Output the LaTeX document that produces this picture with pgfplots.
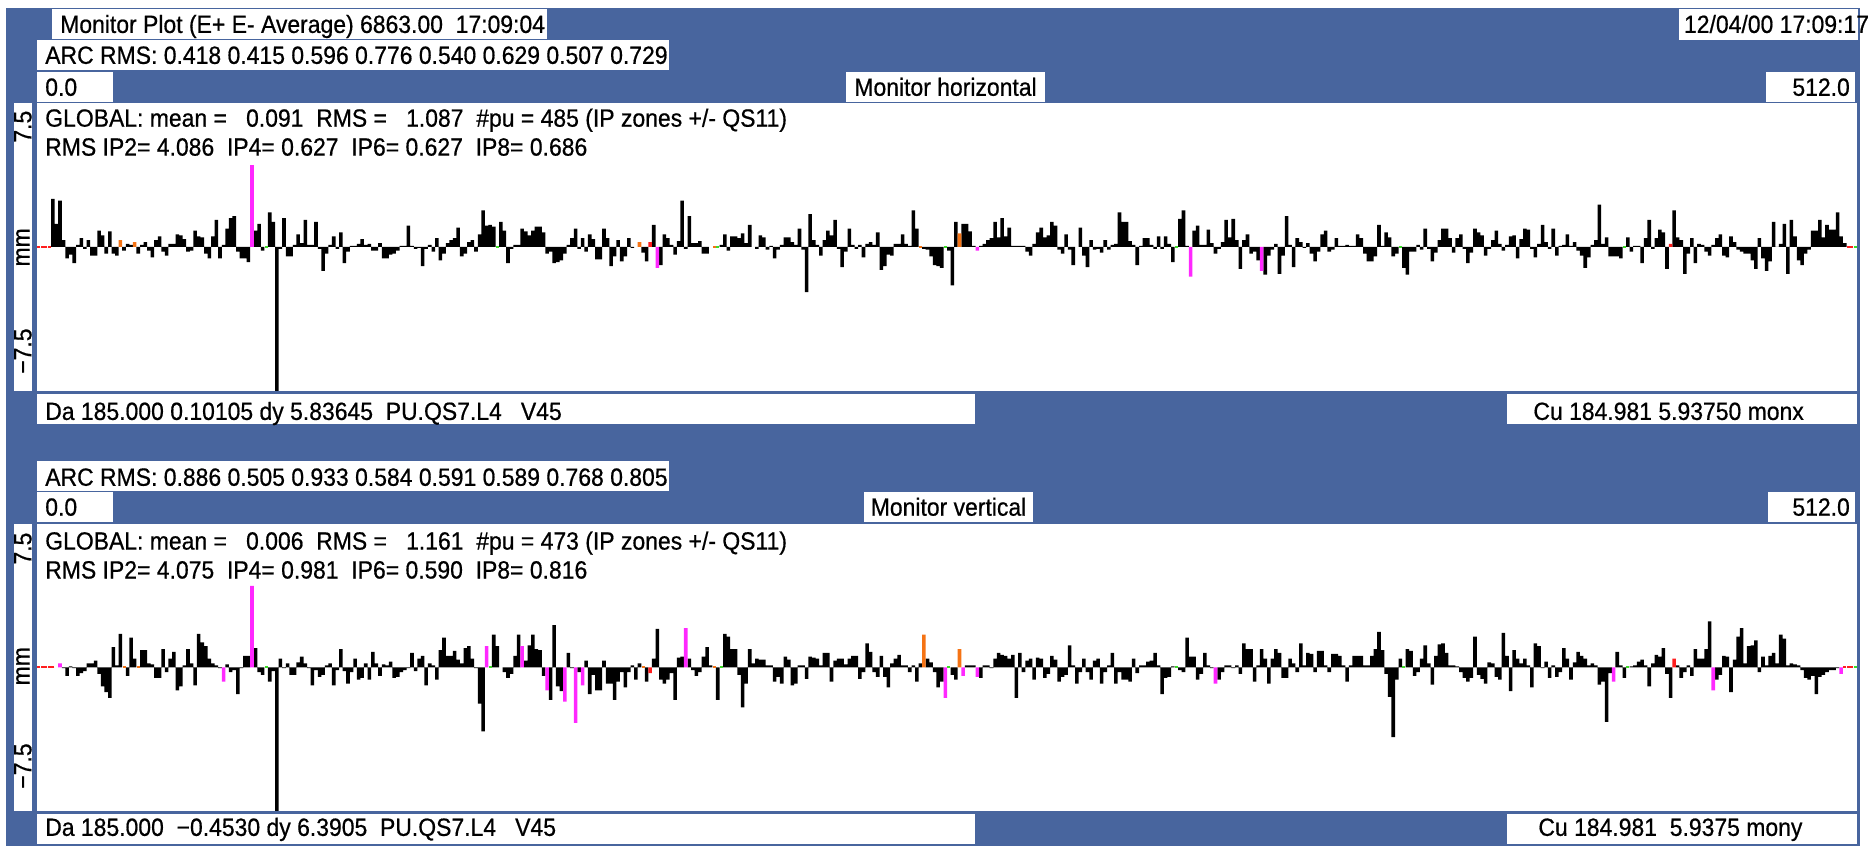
\documentclass[border=0pt]{standalone}
\usepackage{pgfplots}
\pgfplotsset{compat=1.18}
\usepackage{fontspec}
\setmainfont{Liberation Sans}[FakeStretch=0.92,FakeBold=0.6]
\definecolor{frameblue}{RGB}{72,101,158}
\definecolor{mag}{RGB}{255,40,255}
\definecolor{org}{RGB}{245,115,20}
\definecolor{grn}{RGB}{60,220,40}
\definecolor{rd}{RGB}{255,30,30}
\pgfplotsset{
  panel/.style={anchor=north west, scale only axis, width=912.5pt,
    xmin=-0.5, xmax=511.5, ymin=-7.5, ymax=7.5, hide axis, clip=true},
  bars/.style={ybar, bar width=1, bar shift=0pt, draw=none, fill=#1},
  zmark/.style={only marks, mark=-, mark size=0.75pt, color=#1, mark options={line width=1pt}},
}
\begin{document}
\begin{tikzpicture}[font=\fontsize{12.5}{14}\selectfont]
\begin{scope}[x=0.5pt,y=-0.5pt]
  \fill[white] (0,0) rectangle (1869,853);
  \fill[frameblue] (6,8) rectangle (1865,848);
  % ---- top header
  \fill[white] (52,9) rectangle (548,39);
  \fill[white] (1683,9) rectangle (1863,40);
  \fill[white] (37,40) rectangle (671,70);
  \fill[white] (37,72) rectangle (113,102);
  \fill[white] (848,72) rectangle (1048,102);
  \fill[white] (1771,72) rectangle (1860,102);
  \fill[white] (37,103) rectangle (1862,392);
  \fill[white] (14,103) rectangle (32,392);
  \fill[white] (37,395) rectangle (978,425);
  \fill[white] (1511,395) rectangle (1862,425);
  % ---- bottom header
  \fill[white] (37,462) rectangle (671,492);
  \fill[white] (37,493) rectangle (113,523);
  \fill[white] (866,493) rectangle (1036,523);
  \fill[white] (1773,493) rectangle (1860,523);
  \fill[white] (37,525) rectangle (1862,813);
  \fill[white] (14,525) rectangle (32,813);
  \fill[white] (37,816) rectangle (978,846);
  \fill[white] (1511,816) rectangle (1862,846);
  % ---- texts
  \tikzset{t/.style={inner sep=0pt, anchor=base west}}
  \node[t] at (60,33) {Monitor Plot (E+ E- Average) 6863.00~ 17:09:04};
  \node[t] at (1688,33) {12/04/00 17:09:17};
  \node[t] at (45,64) {ARC RMS: 0.418 0.415 0.596 0.776 0.540 0.629 0.507 0.729};
  \node[t] at (45,96) {0.0};
  \node[inner sep=0pt, anchor=base] at (948,96) {Monitor horizontal};
  \node[inner sep=0pt, anchor=base east] at (1855,96) {512.0};
  \node[t] at (45,127) {GLOBAL: mean = ~~0.091 ~RMS = ~~1.087 ~\#pu = 485 (IP zones +/- QS11)};
  \node[t] at (45,156) {RMS IP2= 4.086 ~IP4= 0.627 ~IP6= 0.627 ~IP8= 0.686};
  \node[inner sep=0pt, rotate=90] at (23,127) {7.5};
  \node[inner sep=0pt, rotate=90] at (23,248) {mm};
  \node[inner sep=0pt, rotate=90] at (23,352) {−7.5};
  \node[t] at (45,421) {Da 185.000 0.10105 dy 5.83645 ~PU.QS7.L4 ~~V45};
  \node[t] at (1537,421) {Cu 184.981 5.93750 monx};
  \node[t] at (45,487) {ARC RMS: 0.886 0.505 0.933 0.584 0.591 0.589 0.768 0.805};
  \node[t] at (45,517) {0.0};
  \node[inner sep=0pt, anchor=base] at (951,517) {Monitor vertical};
  \node[inner sep=0pt, anchor=base east] at (1855,517) {512.0};
  \node[t] at (45,551) {GLOBAL: mean = ~~0.006 ~RMS = ~~1.161 ~\#pu = 473 (IP zones +/- QS11)};
  \node[t] at (45,580) {RMS IP2= 4.075 ~IP4= 0.981 ~IP6= 0.590 ~IP8= 0.816};
  \node[inner sep=0pt, rotate=90] at (23,550) {7.5};
  \node[inner sep=0pt, rotate=90] at (23,668) {mm};
  \node[inner sep=0pt, rotate=90] at (23,768) {−7.5};
  \node[t] at (45,838) {Da 185.000 ~−0.4530 dy 6.3905 ~PU.QS7.L4 ~~V45};
  \node[t] at (1542,838) {Cu 184.981 ~5.9375 mony};
\end{scope}

% ================= top panel: horizontal
\begin{axis}[panel, at={(18.5pt,-51.5pt)}, height=144.5pt]
\addplot[bars=black] coordinates {
(4,2.5)(5,1.2)(6,2.4)(7,0.35)(8,-0.6)(9,-0.4)(10,-0.85)(11,0.1)(12,0.45)(13,-0.1)(14,0.35)(15,-0.45)(16,-0.45)(17,0.85)(18,0.6)(19,-0.35)(20,0.8)(21,-0.35)(22,-0.45)(24,-0.2)(25,0.15)(26,0.1)(28,-0.35)(29,0.1)(30,0.25)(31,-0.2)(32,-0.55)(33,0.35)(34,0.55)(35,-0.25)(36,-0.45)(37,0.15)(38,0.15)(39,0.65)(40,0.6)(41,0.4)(42,-0.25)(43,-0.2)(44,0.85)(45,0.55)(46,0.5)(47,-0.35)(48,-0.6)(49,0.55)(50,1.4)(51,-0.6)(52,0.1)(53,0.95)(54,1.5)(55,1.6)(56,-0.25)(57,-0.6)(58,-0.6)(59,-0.8)(61,0.85)(62,1.2)(63,-0.2)(65,1.8)(66,1.3)(67,-8)(68,-0.1)(69,1.5)(70,-0.5)(71,-0.5)(72,0.1)(73,0.65)(74,0.2)(75,1.4)(76,0.1)(77,0.1)(78,1.3)(79,-0.1)(80,-1.25)(81,-0.35)(82,0.1)(83,0.55)(84,-0.1)(85,0.75)(86,-0.85)(87,-0.25)(88,0.05)(89,0.05)(90,0.15)(91,0.4)(92,0.1)(93,0.15)(94,-0.2)(95,-0.2)(96,0.2)(97,-0.6)(98,-0.6)(99,-0.4)(100,-0.35)(101,-0.2)(102,0.05)(103,0.05)(104,1.1)(105,0.05)(106,-0.1)(107,-0.05)(108,-1.0)(109,-0.1)(110,0.1)(111,-0.25)(112,0.45)(113,-0.7)(114,-0.35)(115,0.2)(116,0.35)(117,0.45)(118,1.0)(119,-0.5)(120,-0.35)(121,0.25)(122,0.35)(123,-0.25)(124,0.65)(125,1.9)(126,1.1)(127,1.15)(128,1.05)(130,1.3)
(131,0.85)(132,-0.85)(133,-0.1)(134,0.1)(135,0.1)(136,0.95)(137,0.8)(138,0.6)(139,0.85)(140,1.05)(141,1.05)(142,0.75)(143,-0.35)(144,-0.25)(145,-0.85)(146,-0.8)(147,-0.7)(148,-0.35)(149,0.1)(150,0.45)(151,0.95)(152,-0.1)(153,0.45)(154,-0.25)(155,0.65)(156,0.4)(157,-0.65)(158,-0.65)(159,0.95)(160,0.45)(161,-1.0)(162,-0.5)(163,0.35)(164,-0.75)(165,-0.5)(166,0.45)(167,-0.05)(170,-0.3)(171,-0.75)(173,1.15)(175,-0.95)(176,0.65)(177,0.45)(178,0.1)(179,-0.4)(180,0.3)(181,2.4)(182,-0.1)(183,1.6)(184,0.2)(185,0.2)(186,0.3)(187,-0.35)(188,-0.35)(192,0.1)(193,0.65)(194,-0.2)(195,0.55)(196,0.55)(197,0.45)(198,0.7)(199,0.2)(200,1.15)(202,-0.1)(203,0.6)(204,0.5)(205,-0.15)(206,0.05)(207,-0.6)(208,-0.15)(209,0.1)(210,0.5)(211,0.5)(212,0.25)(213,0.1)(214,0.95)(215,-0.15)(216,-2.35)(217,1.7)(218,0.35)(219,0.1)(220,-0.45)(221,0.35)(222,0.85)(223,0.6)(224,1.4)(225,-0.1)(226,-1.05)(227,-0.25)(228,0.95)(229,0.1)(230,-0.1)(231,0.1)(232,-0.55)(233,0.15)(234,0.25)(235,0.1)(236,0.75)(237,-1.2)(238,-1.0)(239,-0.4)(240,-0.45)(241,0.15)(242,0.15)(243,0.65)(244,0.15)(245,0.05)(246,1.9)(247,0.95)(249,-0.1)(250,-0.15)(251,-0.5)(252,-0.95)(253,-1.0)(254,-1.1)(256,-0.2)(257,-2.0)(258,1.3)
(260,1.2)(261,1.2)(262,0.8)(263,0.05)(265,0.05)(266,0.15)(267,0.35)(268,0.45)(269,1.3)(270,0.5)(271,1.5)(272,0.55)(273,1.0)(274,0.05)(275,0.05)(276,0.05)(277,0.05)(278,-0.25)(279,-0.45)(280,0.15)(281,0.75)(282,1.0)(283,0.5)(284,0.6)(285,1.3)(286,1.1)(287,-0.15)(288,-0.35)(289,0.65)(290,-0.15)(291,-0.95)(293,1.0)(294,-0.45)(295,-1.05)(296,0.35)(297,-0.15)(298,-0.1)(299,-0.3)(300,0.35)(301,-0.15)(302,0.1)(303,0.15)(304,1.8)(305,1.3)(306,1.3)(307,0.3)(308,0.1)(309,-0.95)(310,0.05)(311,0.45)(312,0.45)(313,0.1)(314,-0.1)(315,0.55)(316,-0.1)(317,0.55)(318,0.15)(319,-0.8)(321,1.45)(322,1.9)(323,0.05)(325,0.85)(326,1.1)(327,0.1)(328,0.1)(329,0.9)(330,0.2)(331,-0.35)(332,-0.1)(333,0.25)(334,1.4)(335,0.5)(336,1.45)(337,0.35)(338,-1.15)(339,0.35)(340,0.65)(341,-0.35)(342,-0.25)(343,-0.7)(345,-1.45)(346,-0.45)(347,-0.15)(348,0.15)(349,-1.4)(350,-0.45)(351,1.6)(352,0.1)(353,-1.05)(354,0.45)(355,0.25)(356,-0.05)(357,0.2)(358,-0.35)(359,-0.75)(360,-0.25)(361,0.65)(362,0.85)(363,-0.25)(364,-0.15)(365,0.45)(366,0.05)(367,0.05)(368,0.1)(369,0.05)(370,0.05)(371,0.65)(372,0.45)(373,-0.35)(374,-0.75)(375,-0.75)(376,-0.5)(377,1.15)(378,0.05)(379,0.75)(380,0.5)(381,-0.5)(382,-0.35)(384,-1.1)(385,-1.45)(386,-0.25)
(387,-0.25)(388,0.1)(389,-0.15)(390,0.95)(391,-0.1)(392,-0.75)(393,-0.3)(394,0.35)(395,0.95)(396,0.95)(397,0.45)(398,-0.3)(399,0.45)(400,0.65)(401,-0.1)(402,-0.85)(403,-0.3)(404,0.95)(405,0.75)(406,0.6)(407,-0.45)(408,-0.1)(409,0.35)(410,0.85)(411,0.15)(412,-0.2)(413,0.1)(414,0.55)(415,0.6)(416,-0.6)(417,0.4)(418,0.95)(419,0.9)(420,-0.1)(421,-0.55)(422,0.15)(423,1.15)(424,0.25)(425,-0.1)(426,0.95)(427,-0.45)(428,0.05)(429,0.1)(430,0.65)(431,0.05)(432,0.25)(433,-0.2)(434,-0.45)(435,-1.1)(436,-0.55)(437,0.1)(438,0.35)(439,2.2)(440,0.15)(441,0.5)(442,-0.5)(443,-0.5)(444,-0.5)(445,-0.6)(447,0.5)(448,-0.25)(449,0.05)(450,0.05)(451,-0.85)(452,0.45)(453,1.4)(454,-0.1)(455,0.45)(456,0.9)(457,0.75)(458,-1.15)(460,1.9)(461,0.5)(462,0.35)(463,-1.4)(464,-0.35)(465,0.45)(466,-0.85)(467,0.15)(468,0.1)(469,-0.25)(470,-0.45)(471,0.1)(472,0.45)(473,0.65)(474,-0.45)(475,-0.55)(476,0.55)(477,0.25)(478,-0.15)(479,-0.25)(480,-0.35)(481,-0.35)(482,-0.7)(483,-1.15)(484,0.45)(485,-0.6)(486,-1.25)(487,-0.75)(488,1.3)(489,0)(490,0.15)(491,1.2)(492,-1.4)(493,1.4)(494,0.55)(495,-0.7)(496,-0.95)(497,-0.35)(498,-0.15)(499,0.85)(500,0.85)(501,1.4)(502,0.5)(503,1.15)(504,0.9)(505,0.9)(506,1.8)(507,0.55)(508,0.2)
};
\addplot[bars=mag] coordinates {(60,4.25)(174,-1.1)(264,-0.2)(324,-1.55)(344,-1.25)};
\addplot[bars=org] coordinates {(23,0.35)(27,0.25)(169,0.25)(259,0.7)};
\addplot[bars=rd] coordinates {(172,0.25)(459,0.15)};
\addplot[zmark=rd] coordinates {(0,0)(1,0)(2,0)(3,0)(509,0)(510,0)};
\addplot[zmark=grn] coordinates {(64,0)(129,0)(191,0)(255,0)(320,0)(383,0)(446,0)(511,0)};
\addplot[zmark=org] coordinates {(190,0)(248,0)};
\end{axis}

% ================= bottom panel: vertical
\begin{axis}[panel, at={(18.5pt,-262.5pt)}, height=144pt]
\addplot[bars=black] coordinates {
(7,-0.05)(8,-0.45)(9,0.05)(10,-0.05)(11,-0.45)(12,-0.3)(13,-0.2)(14,0.2)(15,0.2)(16,0.35)(17,-0.35)(18,-1.0)(19,-1.3)(20,-1.6)(21,1.05)(22,0.1)(23,1.75)(25,-0.45)(26,1.55)(27,0.45)(29,0.9)(30,0.9)(31,0.2)(32,0.15)(33,-0.55)(34,-0.55)(35,0.95)(36,-0.25)(37,0.45)(38,0.8)(39,-1.2)(40,-1.0)(41,0.1)(42,0.95)(43,0.2)(44,-0.95)(45,1.75)(46,1.3)(47,1.1)(48,0.45)(49,0.2)(50,0.1)(51,-0.05)(53,0.15)(54,-0.25)(55,-0.15)(56,-1.4)(57,-0.05)(58,0.6)(59,0.6)(61,1.0)(62,-0.25)(63,-0.4)(65,-0.75)(66,-0.2)(67,-8)(68,0.45)(69,-0.05)(70,0.2)(71,-0.4)(72,-0.4)(73,0.25)(74,0.55)(75,0.2)(76,-0.05)(77,-0.95)(78,-0.15)(79,-0.5)(80,-0.4)(81,0.1)(82,0.2)(83,-0.95)(84,-0.15)(85,0.95)(86,-0.2)(87,-0.85)(88,-0.25)(89,0.45)(90,-0.65)(91,-0.55)(92,0.2)(93,-0.65)(94,0.8)(95,0.2)(96,-0.45)(97,0.15)(98,0.1)(99,0.3)(100,-0.55)(101,-0.5)(102,-0.25)(103,-0.15)(104,-0.05)(105,0.75)(106,-0.2)(107,0.45)(108,0.6)(109,-0.95)(110,0.2)(111,0.1)(112,-0.65)(113,0.9)(114,1.55)(115,0.6)(116,0.6)(117,0.85)(118,0.4)(119,0.2)(120,1.0)(121,1.1)(122,0.45)(123,-0.05)(124,-1.9)(125,-3.35)(128,1.7)(129,1.1)
(131,-0.25)(132,-0.55)(133,-0.35)(134,0.6)(135,1.7)(137,0.35)(138,1.15)(139,1.7)(140,0.95)(141,0.9)(142,-0.45)(144,-1.7)(145,2.2)(146,-1.0)(147,-1.25)(149,0.75)(150,-0.05)(152,-0.25)(154,0.35)(155,-1.4)(156,-0.4)(157,-1.2)(158,-1.2)(159,0.35)(160,-0.85)(161,-0.85)(162,-1.7)(163,-0.75)(164,-0.25)(165,-1.05)(166,-0.25)(167,0.1)(168,-0.65)(169,0.2)(171,-0.75)(173,0.45)(174,2.0)(175,-0.65)(176,-0.85)(177,-0.65)(178,-0.3)(179,-1.7)(180,0.5)(181,0.55)(183,0.45)(184,-0.15)(185,-0.45)(186,-0.25)(187,0.55)(188,1.05)(189,0.1)(191,-1.7)(193,1.75)(194,1.6)(195,0.95)(196,0.95)(197,-0.4)(198,-2.1)(199,-0.85)(200,0.95)(201,0.2)(202,0.45)(203,0.4)(204,0.4)(205,0.1)(206,0.1)(207,-0.75)(208,-0.5)(209,-0.85)(210,0.55)(211,0.4)(212,-0.95)(213,-0.85)(214,0.1)(215,0.1)(216,-0.6)(217,0.55)(218,0.5)(219,0.45)(220,0.1)(221,0.75)(222,0.75)(223,-0.75)(224,0.35)(225,0.45)(226,0.45)(227,0.15)(228,0.45)(229,0.6)(230,0.6)(231,-0.6)(232,-0.25)(233,1.25)(234,0.8)(235,-0.25)(236,-0.5)(237,0.6)(238,-0.5)(239,-1.05)(240,0.2)(241,0.45)(242,0.65)(243,0.1)(244,0.1)(245,-0.25)(246,0.1)(247,-0.75)(248,0.2)(250,0.45)(251,0.25)(252,-0.25)(253,-1.05)(254,-0.75)(257,-0.4)(258,-0.65)
(261,0.1)(262,0.1)(263,0.1)(265,-0.55)(266,0.1)(267,0.1)(268,-0.05)(269,0.45)(270,0.75)(271,0.65)(272,0.6)(273,0.45)(274,0.65)(275,-1.6)(276,0.75)(277,-0.25)(278,0.35)(279,0.45)(280,-0.65)(281,0.5)(282,0.45)(283,-0.55)(284,-0.35)(285,0.6)(286,0.4)(287,-0.75)(288,-0.5)(289,-0.4)(290,1.15)(291,0.1)(292,-0.85)(293,-0.25)(294,0.45)(295,-0.25)(296,-0.65)(297,0.35)(298,0.45)(299,-0.85)(300,-0.25)(301,0.1)(302,0.75)(303,-0.85)(304,-0.25)(305,-0.65)(306,-0.65)(307,-0.75)(308,0.45)(309,-0.3)(310,0.1)(311,0.1)(312,0.3)(313,0.35)(314,0.75)(315,0.1)(316,-1.4)(317,-0.55)(318,-0.5)(319,0.05)(321,-0.15)(322,-0.25)(323,1.55)(324,0.55)(325,0.55)(326,-0.65)(327,-0.35)(328,0.75)(329,0.1)(330,-0.05)(332,-0.65)(333,-0.25)(334,0.1)(335,0.1)(336,-0.05)(337,0.1)(338,-0.35)(339,1.25)(340,0.95)(341,0.95)(342,-0.75)(343,0.1)(344,0.95)(345,0.45)(346,-0.85)(347,0.45)(348,0.95)(349,0.75)(350,-0.55)(351,-0.55)(352,0.45)(353,0.2)(354,-0.25)(355,1.25)(356,0.1)(357,0.75)(358,0.7)(359,-0.25)(360,0.85)(361,0.85)(362,0.1)(363,-0.25)(364,0.7)(365,0.7)(366,0.6)(367,0.1)(368,-0.75)(369,0.1)(370,0.6)(371,0.6)(372,0.6)(373,0.1)(374,0.1)(375,0.6)(376,0.95)(377,1.85)(378,0.9)(379,-0.35)(380,-1.55)(381,-3.65)(382,-0.65)(383,0.45)(385,0.95)(386,0.85)(387,-0.45)
(388,-0.25)(389,0.45)(390,1.15)(391,0.2)(392,-0.9)(393,0.6)(394,1.2)(395,1.25)(396,0.75)(397,0.1)(398,0.1)(399,0.05)(400,-0.25)(401,-0.55)(402,-0.75)(403,-0.55)(404,1.6)(405,-0.4)(406,-0.6)(407,-0.85)(408,0.25)(409,0.2)(410,-0.5)(411,-0.65)(412,1.8)(413,0.6)(414,-1.25)(415,0.9)(416,0.45)(417,0.2)(418,0.45)(419,0.1)(420,-1.05)(421,1.25)(422,1.1)(423,-0.05)(424,0.3)(425,-0.55)(426,0.1)(427,-0.5)(428,-0.25)(429,1.0)(430,0.45)(431,-0.65)(432,0.25)(433,0.8)(434,0.6)(435,0.45)(436,0.1)(437,0.2)(438,0.1)(439,-0.9)(440,-0.75)(441,-2.85)(442,-0.3)(444,0.8)(445,0.1)(446,-0.55)(448,0.05)(449,0.1)(450,0.3)(451,0.4)(452,0.1)(453,-1.0)(454,0.2)(455,0.65)(456,0.55)(457,1.0)(458,-0.35)(459,-1.6)(461,0.1)(462,-0.55)(463,-0.25)(464,0.1)(465,-0.45)(466,0.95)(467,0.45)(468,0.45)(469,0.95)(470,2.4)(472,-0.65)(473,-0.4)(474,0.6)(475,0.55)(476,-1.3)(477,0.4)(478,1.6)(479,2.05)(480,0.2)(481,1.1)(482,1.15)(483,1.4)(484,-0.25)(485,0.55)(486,0.1)(487,0.6)(488,0.75)(489,0.2)(490,1.7)(491,1.5)(492,0.1)(493,0.2)(494,0.15)(495,0.1)(496,-0.15)(497,-0.55)(498,-0.65)(499,-0.45)(500,-1.4)(501,-0.5)(502,-0.4)(503,-0.25)(504,-0.15)(505,-0.15)(506,-0.05)
};
\addplot[bars=mag] coordinates {(6,0.2)(52,-0.75)(60,4.25)(126,1.1)(136,1.1)(143,-1.2)(148,-1.8)(151,-2.9)(153,-0.95)(182,2.05)(255,-1.6)(260,-0.45)(264,-0.5)(331,-0.85)(443,-0.75)(471,-1.2)(507,-0.35)};
\addplot[bars=org] coordinates {(249,1.7)(259,0.95)};
\addplot[bars=rd] coordinates {(172,-0.3)(460,0.45)};
\addplot[zmark=rd] coordinates {(0,0)(1,0)(2,0)(3,0)(4,0)(508,0)(509,0)(510,0)};
\addplot[zmark=grn] coordinates {(64,0)(127,0)(192,0)(256,0)(320,0)(384,0)(447,0)(511,0)};
\addplot[zmark=org] coordinates {(24,0)(28,0)(170,0)(190,0)};
\end{axis}
\end{tikzpicture}
\end{document}
